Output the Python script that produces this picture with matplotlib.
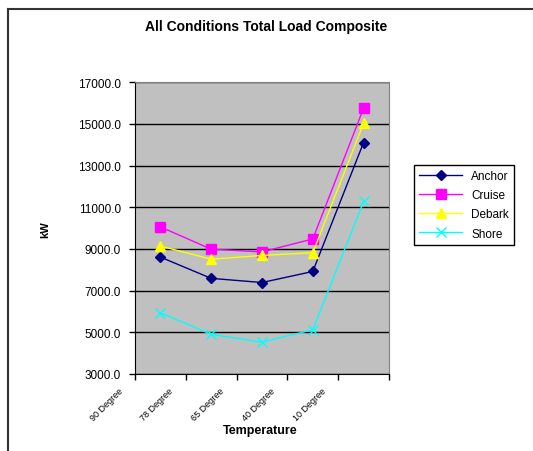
import matplotlib.pyplot as plt
import matplotlib.transforms as mtransforms
from matplotlib.lines import Line2D
import numpy as np

plt.rcParams['font.family'] = ['Liberation Sans', 'DejaVu Sans']

categories = ['90 Degree', '78 Degree', '65 Degree', '40 Degree', '10 Degree']
anchor = [8610, 7590, 7390, 7920, 14110]
cruise = [10060, 8990, 8860, 9480, 15760]
debark = [9140, 8510, 8690, 8820, 15030]
shore = [5940, 4900, 4530, 5120, 11280]
y_ticks = [3000, 5000, 7000, 9000, 11000, 13000, 15000, 17000]

fig = plt.figure(figsize=(5.33, 4.52), dpi=100)
ax = fig.add_axes([0.2533, 0.1704, 0.4765, 0.6453])
ax.set_facecolor('#C0C0C0')

x = np.arange(len(categories))
ax.plot(x, anchor, color='#000080', marker='D', markersize=5, lw=1, label='Anchor')
ax.plot(x, cruise, color='#FF00FF', marker='s', markersize=7, lw=1, label='Cruise')
ax.plot(x, debark, color='#FFFF00', marker='^', markersize=7, lw=1, label='Debark')
ax.plot(x, shore, color='#00FFFF', marker='x', markersize=7, mew=1, lw=1, label='Shore')

ax.set_xlim(-0.5, len(categories) - 0.5)
ax.set_ylim(3000, 17000)
ax.set_yticks(y_ticks)
ax.set_yticklabels(['%.1f' % v for v in y_ticks], fontsize=8.5)
ax.yaxis.grid(True, color='black', lw=1)
ax.set_axisbelow(True)

ax.set_xticks(x - 0.5)
ax.set_xticks([len(categories) - 0.5], minor=True)
ax.set_xticklabels(categories, rotation=45, ha='right', va='top',
                   rotation_mode='anchor', fontsize=6.5,
                   family=['Liberation Sans Narrow', 'Liberation Sans'])
ax.tick_params(axis='both', which='both', direction='out', length=4, width=1, color='black')
ax.tick_params(axis='y', pad=6)

# category labels sit left of the category boundaries
shift = mtransforms.ScaledTranslation(-17 / 100, -1 / 100, fig.dpi_scale_trans)
for lbl in ax.get_xticklabels():
    lbl.set_transform(lbl.get_transform() + shift)

for side in ['top', 'right']:
    ax.spines[side].set_color('#808080')
for side in ['left', 'bottom']:
    ax.spines[side].set_color('black')

ax.set_ylabel('kW', fontsize=8, fontweight='bold', labelpad=20)
fig.text(0.488, 1 - 431 / 452, 'Temperature', ha='center', va='center',
         fontsize=9, fontweight='bold')
fig.text(0.5, 1 - 27 / 452, 'All Conditions Total Load Composite', ha='center',
         va='center', fontsize=10, fontweight='bold')

leg = ax.legend(loc='upper left', bbox_to_anchor=(414 / 533, 1 - 166 / 452),
                bbox_transform=fig.transFigure, borderaxespad=0, fontsize=8.5,
                handlelength=3.6, labelspacing=0.6, fancybox=False,
                framealpha=1, edgecolor='black', borderpad=0.45)
leg.get_frame().set_linewidth(1)

# outer chart border (left and top edges)
fig.add_artist(Line2D([8 / 533, 8 / 533], [0, 1 - 10 / 452], color='#333333', lw=1.5,
                      transform=fig.transFigure))
fig.add_artist(Line2D([8 / 533, 1], [1 - 10 / 452, 1 - 10 / 452], color='#333333', lw=1.5,
                      transform=fig.transFigure))

fig.savefig('out.png', dpi=100, facecolor='white')
